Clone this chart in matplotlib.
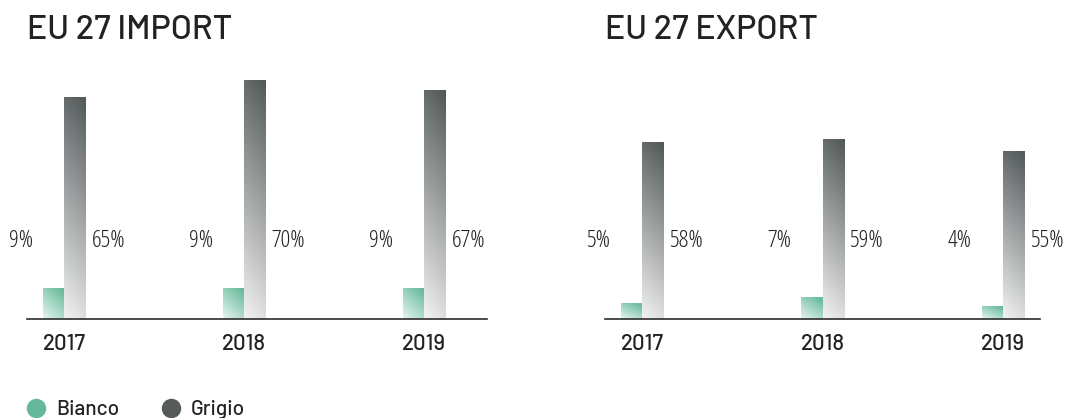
import numpy as np
import matplotlib
matplotlib.use("Agg")
import matplotlib.pyplot as plt
from matplotlib.lines import Line2D
from matplotlib.transforms import blended_transform_factory

# Shares by year (percent)
years = ["2017", "2018", "2019"]
import_bianco = [9, 9, 9]
import_grigio = [65, 70, 67]
export_bianco = [5, 7, 4]
export_grigio = [58, 59, 55]
series_names = ["Bianco", "Grigio"]
panel_titles = ["EU 27 IMPORT", "EU 27 EXPORT"]

GREEN = "#66b89b"
GREY = "#555a5b"
TEXT = "#222222"
TITLE_FONT = ["Barlow", "Roboto", "DejaVu Sans"]
LABEL_FONT = ["Open Sans", "DejaVu Sans"]

W, H = 1067, 418
fig = plt.figure(figsize=(W / 100, H / 100), dpi=100)


def grey_gradient(n=200):
    # dark at top, light at bottom, with a slight diagonal drift
    yy, xx = np.mgrid[0:1:n * 1j, 0:1:20j]
    t = np.clip(0.88 * yy + 0.12 * xx, 0, 1)
    top = np.array([82, 88, 88]) / 255
    bot = np.array([242, 242, 242]) / 255
    return bot[None, None, :] * (1 - t[..., None]) + top[None, None, :] * t[..., None]


def green_gradient(n=60):
    yy, xx = np.mgrid[0:1:n * 1j, 0:1:n * 1j]
    t = np.clip(0.65 * yy + 0.45 * xx, 0, 1)
    top = np.array([106, 188, 158]) / 255
    bot = np.array([232, 245, 240]) / 255
    return bot[None, None, :] * (1 - t[..., None]) + top[None, None, :] * t[..., None]


def gradient_bar(ax, x0, width, height, img):
    ax.imshow(img, extent=(x0, x0 + width, 0, height), origin="lower",
              aspect="auto", interpolation="bilinear", zorder=2)


def panel(rect, xlim, ylim, bianco, grigio, title, title_x):
    ax = fig.add_axes(rect)
    bw = 0.1167
    x = np.arange(len(years))
    for i in x:
        gradient_bar(ax, i - bw, bw, bianco[i], green_gradient())
        gradient_bar(ax, i, bw, grigio[i], grey_gradient())
    ax.set_xlim(*xlim)
    ax.set_ylim(*ylim)
    trans = blended_transform_factory(ax.transData, ax.transAxes)
    label_kw = dict(va="center", fontsize=17.5, family=LABEL_FONT,
                    fontstretch="condensed", fontweight="light", color=TEXT,
                    textcoords="offset points", xycoords=trans)
    for i in x:
        ax.annotate(f"{bianco[i]}%", xy=(i - bw, 0.301), xytext=(-7.2, 0),
                    ha="right", **label_kw)
        ax.annotate(f"{grigio[i]}%", xy=(i + bw, 0.301), xytext=(4.6, 0),
                    ha="left", **label_kw)
    ax.set_xticks(x)
    ax.set_xticklabels(years, family=TITLE_FONT, fontsize=16,
                       fontweight="medium", color=TEXT)
    ax.tick_params(axis="x", length=0, pad=11)
    ax.set_yticks([])
    for s in ("left", "right", "top"):
        ax.spines[s].set_visible(False)
    ax.spines["bottom"].set_color("#2b2b2b")
    ax.spines["bottom"].set_linewidth(1.2)
    ax.patch.set_alpha(0)
    fig.text(title_x / W, 1 - 39 / H, title, family=TITLE_FONT, fontsize=24.5,
             fontweight="medium", color=TEXT, va="baseline", ha="left")
    return ax


base = (H - 319) / H
hgt = 259 / H
panel([27 / W, base, 460 / W, hgt], (-0.2056, 2.35), (0, 76),
      import_bianco, import_grigio, panel_titles[0], 27)
panel([605 / W, base, 435 / W, hgt], (-0.205, 2.205), (0, 85),
      export_bianco, export_grigio, panel_titles[1], 605)

# Legend
for name, col, cx, tx in zip(series_names, [GREEN, GREY], [36, 171], [56, 191]):
    fig.add_artist(Line2D([cx / W], [1 - 408 / H], marker="o", markersize=13,
                          color=col, linestyle="none",
                          transform=fig.transFigure))
    fig.text(tx / W, 1 - 415 / H, name, family=TITLE_FONT, fontsize=15,
             fontweight="medium", color=TEXT, va="baseline", ha="left")

fig.savefig("out.png", dpi=100, facecolor="white")
